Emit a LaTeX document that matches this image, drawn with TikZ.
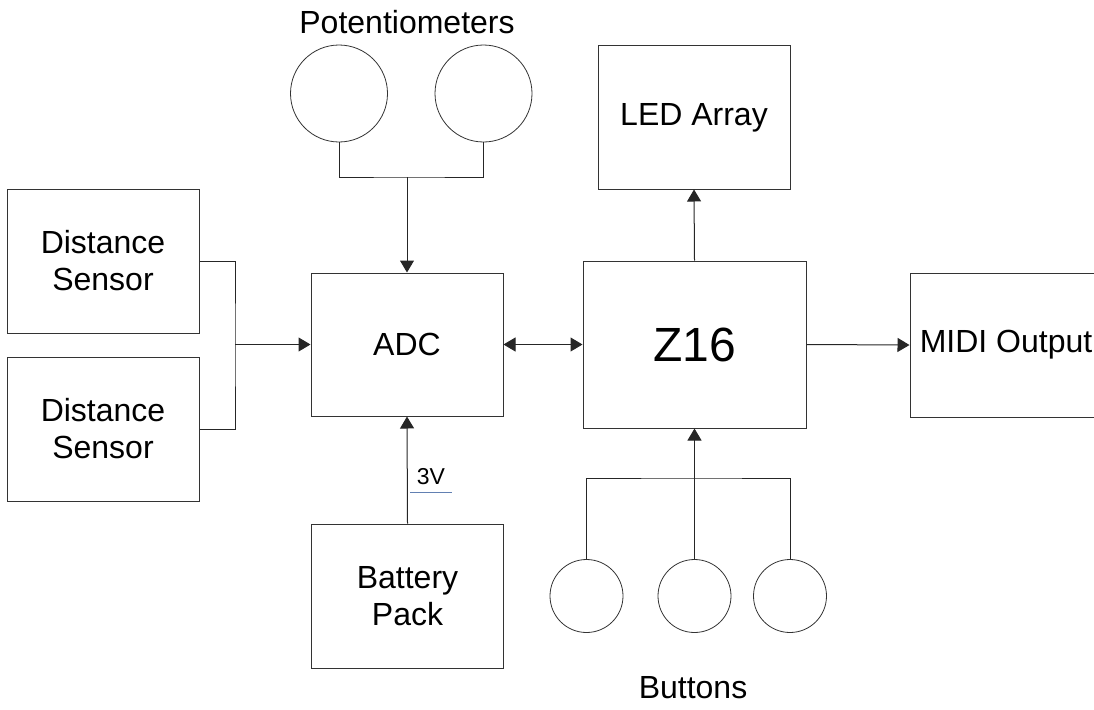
\documentclass[tikz,border=0pt]{standalone}
\usepackage{fontspec}
\setmainfont{Liberation Sans}
\usetikzlibrary{arrows.meta}
\definecolor{ulblue}{RGB}{98,128,178}
\begin{document}
\begin{tikzpicture}[x=1pt,y=-1pt,
  block/.style={draw=black!80, line width=1pt, inner sep=0pt,
    minimum width=192pt, minimum height=144pt, align=center,
    font=\fontsize{32}{37}\selectfont},
  knob/.style={draw=black!80, line width=0.8pt, circle, inner sep=0pt},
  wire/.style={draw=black!85, line width=1pt},
  arr/.style={wire, -{Triangle[length=12pt,width=14pt]}},
  darr/.style={wire, {Triangle[length=12pt,width=14pt]}-{Triangle[length=12pt,width=14pt]}},
  caption/.style={font=\fontsize{32}{37}\selectfont}]
  \clip (0,0) rectangle (1094,709);

  \node[block] (ds1) at (103,261) {Distance\\Sensor};
  \node[block] (ds2) at (103,429) {Distance\\Sensor};
  \node[block, minimum height=143pt] (adc) at (407,344.5) {ADC};
  \node[block, minimum width=223pt, minimum height=167pt,
    font=\fontsize{48}{52}\selectfont] (zsix) at (694.5,344.5) {Z16};
  \node[block] (midi) at (1006,345) {MIDI Output};
  \node[block, minimum height=143pt] (led) at (694,117.5) {LED Array};
  \node[block] (bat) at (407.5,596) {Battery\\Pack};

  \node[knob, minimum size=97pt] (pot1) at (339,93.5) {};
  \node[knob, minimum size=97pt] (pot2) at (483.5,93.5) {};
  \node[caption] (potlbl) at (407,22) {Potentiometers};

  \node[knob, minimum size=73pt] (btn1) at (586.5,596) {};
  \node[knob, minimum size=73pt] (btn2) at (694.5,596) {};
  \node[knob, minimum size=73pt] (btn3) at (790,596) {};
  \node[caption] (btnlbl) at (693,688) {Buttons};

  \coordinate (pbus) at (407,177);
  \coordinate (dbus) at (235,344.5);
  \coordinate (bbus) at (694.5,478);

  \draw[wire] (pot1.south) |- (pbus) -| (pot2.south);
  \draw[arr] (pbus) -- (adc.north);
  \draw[wire] (ds1.east) -| (dbus) |- (ds2.east);
  \draw[arr] (dbus) -- (adc.west);
  \draw[darr] (adc.east) -- (zsix.west);
  \draw[arr] (zsix.east) -- (midi.west);
  \draw[arr] (zsix.north) -- (led.south);
  \draw[wire] (btn1.north) |- (bbus) -| (btn3.north);
  \draw[arr] (btn2.north) -- (zsix.south);
  \draw[arr] (bat.north) -- (adc.south);

  \node[font=\fontsize{23}{26}\selectfont] (volt) at (431,477) {3V};
  \draw[ulblue, line width=1.2pt] (410,492.5) -- (452,492.5);
\end{tikzpicture}
\end{document}
